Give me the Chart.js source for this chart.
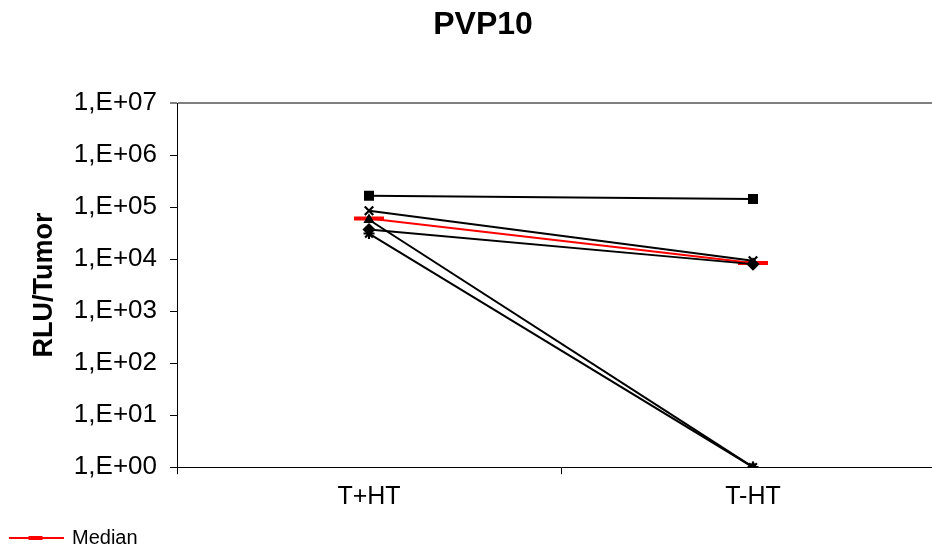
<!DOCTYPE html>
<html>
<head>
<meta charset="utf-8">
<script src="https://cdn.jsdelivr.net/npm/chart.js@4.4.1/dist/chart.umd.min.js"></script>
<style>
  html, body { margin: 0; padding: 0; background: #fff; overflow: hidden; }
  #wrap { width: 966px; height: 547px; position: relative; }
</style>
</head>
<body>
<div id="wrap"><canvas id="c" width="966" height="547"></canvas></div>
<script>
// ---- data ----
const categories = ['T+HT', 'T-HT'];
const mouse1 = [165000, 143000];   // squares
const mouse2 = [85000, 9300];      // crosses
const mouse3 = [37000, 8000];      // diamonds
const mouse4 = [57000, 1];         // triangles
const mouse5 = [31000, 1];         // stars
const median = [60000, 8400];
const yTicks = [1, 10, 100, 1000, 10000, 100000, 1000000, 10000000];

const FONT = "'Liberation Sans', Arial, sans-serif";

// legend symbol for median: red line with thick bar
const sym = document.createElement('canvas');
sym.width = 55; sym.height = 8;
(function(){
  const g = sym.getContext('2d');
  g.fillStyle = '#ff0000';
  g.fillRect(0, 3, 55, 2);
  g.fillRect(20, 2, 14, 4);
})();

// move the legend to the bottom-left corner like the original
const legendShift = {
  id: 'legendShift',
  beforeDraw(chart) {
    const l = chart.legend;
    if (!l || l._shifted) return;
    l.left -= 21; l.right -= 21;
    l.top += 11; l.bottom += 11;
    l._shifted = true;
  },
  afterLayout(chart) { if (chart.legend) chart.legend._shifted = false; }
};

function mouseSet(data, style, r, bw) {
  return {
    data: data,
    borderColor: '#000',
    backgroundColor: '#000',
    borderWidth: 2,
    pointStyle: style,
    pointRadius: r,
    pointBorderWidth: bw,
    pointBorderColor: '#000',
    pointBackgroundColor: '#000',
    tension: 0,
    label: ''
  };
}

new Chart(document.getElementById('c'), {
  type: 'line',
  plugins: [legendShift],
  data: {
    labels: categories,
    datasets: [
      mouseSet(mouse1, 'rect', 6, 1.5),
      mouseSet(mouse2, 'crossRot', 6, 2.2),
      mouseSet(mouse3, 'rectRot', 5.5, 1.5),
      mouseSet(mouse4, 'triangle', 5, 1.5),
      mouseSet(mouse5, 'star', 5.5, 2.2),
      {
        label: 'Median',
        data: median,
        borderColor: '#ff0000',
        backgroundColor: '#ff0000',
        borderWidth: 2,
        pointStyle: 'line',
        pointRadius: 15,
        pointBorderWidth: 4,
        pointBorderColor: '#ff0000',
        tension: 0
      }
    ]
  },
  options: {
    responsive: false,
    animation: false,
    layout: { padding: { left: 21, right: 21, top: 0, bottom: 0 } },
    plugins: {
      title: {
        display: true,
        text: 'PVP10',
        color: '#000',
        font: { family: FONT, size: 32, weight: 'bold' },
        padding: { top: 6, bottom: 58.6 }
      },
      legend: {
        display: true,
        position: 'bottom',
        align: 'start',
        labels: {
          usePointStyle: true,
          pointStyleWidth: 52,
          generateLabels: (chart) => [{
            text: 'Median', pointStyle: sym, fillStyle: '#ff0000',
            strokeStyle: '#ff0000', lineWidth: 0, datasetIndex: 5, hidden: false, fontColor: '#000'
          }],
          color: '#000',
          font: { family: FONT, size: 20 },
          padding: 10
        }
      },
      tooltip: { enabled: false }
    },
    scales: {
      x: {
        type: 'category',
        offset: true,
        afterFit: (scale) => { scale.height = 39.8; },
        grid: {
          offset: true,
          drawOnChartArea: false,
          drawTicks: true,
          tickLength: 7,
          tickColor: '#000'
        },
        border: { display: true, color: '#000', width: 1 },
        ticks: {
          color: '#000',
          font: { family: FONT, size: 25 },
          padding: 8
        }
      },
      y: {
        type: 'logarithmic',
        min: 1,
        max: 10000000,
        afterBuildTicks: (scale) => {
          scale.ticks = yTicks.map(v => ({ value: v }));
        },
        afterFit: (scale) => { scale.width = 156; },
        grid: {
          drawOnChartArea: true,
          color: (ctx) => (ctx.tick && ctx.tick.value === 10000000) ? '#808080' : 'rgba(0,0,0,0)',
          lineWidth: (ctx) => (ctx.tick && ctx.tick.value === 10000000) ? 2 : 1,
          tickLength: 7,
          tickColor: (ctx) => (ctx.tick && ctx.tick.value === 10000000) ? '#808080' : '#000'
        },
        border: { display: true, color: '#000', width: 1 },
        ticks: {
          color: '#000',
          font: { family: FONT, size: 26 },
          padding: 13,
          callback: (v) => {
            const e = Math.round(Math.log10(v));
            return '1,E+' + (e < 10 ? '0' + e : e);
          }
        },
        title: {
          display: true,
          text: 'RLU/Tumor',
          color: '#000',
          font: { family: FONT, size: 27, weight: 'bold' },
          padding: { top: 7, bottom: 0 }
        }
      }
    }
  }
});
</script>
</body>
</html>
